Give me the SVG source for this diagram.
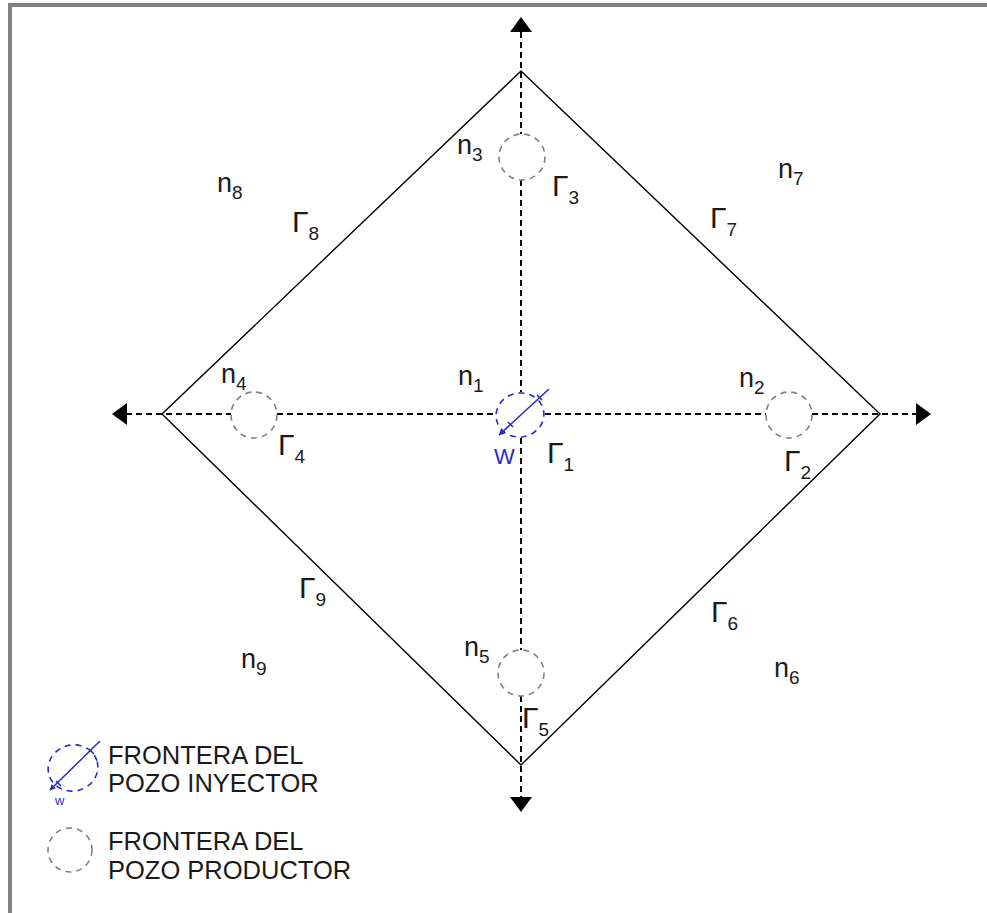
<svg xmlns="http://www.w3.org/2000/svg" width="987" height="913" viewBox="0 0 987 913">
<style>
.lbl{font-family:"Liberation Sans",Arial,sans-serif;fill:#1a1a1a;font-size:27px}
.gam{font-family:"Liberation Sans",Arial,sans-serif;fill:#1a1a1a;font-size:30px}
.sub{font-size:19px}
.leg{font-family:"Liberation Sans",Arial,sans-serif;fill:#1a1a1a;font-size:25.5px}
.axis{stroke:#000;stroke-width:2;stroke-dasharray:6 4;fill:none}
.edge{stroke:#000;stroke-width:1.4;fill:none}
.prod{stroke:#808080;stroke-width:1.6;stroke-dasharray:6 5;fill:none}
.inj{stroke:#2a2ac8;stroke-width:1.6;stroke-dasharray:6 5;fill:none}
.wl{stroke:#2a2ac8;stroke-width:1.5;fill:none}
.head{fill:#000}
</style>
<defs>
<marker id="barr" viewBox="0 0 10 10" refX="9" refY="5" markerWidth="4" markerHeight="4" orient="auto" markerUnits="strokeWidth">
<path d="M0,0 L10,5 L0,10 z" fill="#2a2ac8"/>
</marker>
</defs>
<rect width="987" height="913" fill="#fff"/>
<g id="frame">
<rect x="8" y="3" width="979" height="4" fill="#808080"/>
<rect x="8" y="3" width="4" height="910" fill="#808080"/>
</g>
<g id="connectors">
<polygon class="edge" points="521,71 880,414 521,765 162,414"/>
<path class="axis" d="M521,32 V134 M521,180 V392 M521,438 V650 M521,696 V798"/>
<path class="axis" d="M126,414 H231 M277,414 H495 M545,414 H766 M812,414 H917"/>
<polygon class="head" points="521,17 510,32 532,32"/>
<polygon class="head" points="521,812 510,797 532,797"/>
<polygon class="head" points="112,414 127,403 127,425"/>
<polygon class="head" points="931,414 916,403 916,425"/>
</g>
<g id="n3"><circle class="prod" cx="522" cy="157" r="23"/></g>
<g id="n4"><circle class="prod" cx="254" cy="415" r="23"/></g>
<g id="n2"><circle class="prod" cx="789" cy="415" r="23"/></g>
<g id="n5"><circle class="prod" cx="521" cy="673" r="23"/></g>
<g id="n1">
<ellipse class="inj" cx="520" cy="415" rx="24" ry="22" transform="rotate(-10 520 415)"/>
<line class="wl" x1="549" y1="389" x2="499" y2="435" marker-end="url(#barr)"/>
<path class="wl" d="M537,395 l5,5 M508,422 l5,5"/>
<text x="494" y="464" font-family="Liberation Sans,Arial,sans-serif" font-size="22" fill="#2a2ac8">W</text>
</g>
<g id="labels">
<text class="lbl" x="458" y="385">n<tspan class="sub" dy="7">1</tspan></text>
<text class="lbl" x="739" y="387">n<tspan class="sub" dy="7">2</tspan></text>
<text class="lbl" x="457" y="154">n<tspan class="sub" dy="7">3</tspan></text>
<text class="lbl" x="221" y="383">n<tspan class="sub" dy="7">4</tspan></text>
<text class="lbl" x="464" y="656">n<tspan class="sub" dy="7">5</tspan></text>
<text class="lbl" x="774" y="677">n<tspan class="sub" dy="7">6</tspan></text>
<text class="lbl" x="778" y="178">n<tspan class="sub" dy="7">7</tspan></text>
<text class="lbl" x="217" y="192">n<tspan class="sub" dy="7">8</tspan></text>
<text class="lbl" x="241" y="668">n<tspan class="sub" dy="7">9</tspan></text>
<text class="gam" x="547" y="463">Γ<tspan class="sub" dy="8">1</tspan></text>
<text class="gam" x="784" y="471">Γ<tspan class="sub" dy="8">2</tspan></text>
<text class="gam" x="552" y="196">Γ<tspan class="sub" dy="8">3</tspan></text>
<text class="gam" x="278" y="455">Γ<tspan class="sub" dy="8">4</tspan></text>
<text class="gam" x="522" y="728">Γ<tspan class="sub" dy="8">5</tspan></text>
<text class="gam" x="711" y="622">Γ<tspan class="sub" dy="8">6</tspan></text>
<text class="gam" x="710" y="228">Γ<tspan class="sub" dy="8">7</tspan></text>
<text class="gam" x="292" y="232">Γ<tspan class="sub" dy="8">8</tspan></text>
<text class="gam" x="299" y="598">Γ<tspan class="sub" dy="8">9</tspan></text>
</g>
<g id="legend">
<ellipse class="inj" cx="73" cy="768" rx="25" ry="23" transform="rotate(-15 73 768)"/>
<line class="wl" x1="100" y1="741" x2="50" y2="790" marker-end="url(#barr)"/>
<path class="wl" d="M89,749 l5,5 M56,781 l5,5"/>
<text x="55" y="805" font-family="Liberation Sans,Arial,sans-serif" font-size="13" fill="#2a2ac8">w</text>
<text class="leg" x="108" y="764">FRONTERA DEL</text>
<text class="leg" x="108" y="792">POZO INYECTOR</text>
<circle class="prod" cx="70" cy="850" r="22"/>
<text class="leg" x="108" y="850">FRONTERA DEL</text>
<text class="leg" x="108" y="879">POZO PRODUCTOR</text>
</g>
</svg>
